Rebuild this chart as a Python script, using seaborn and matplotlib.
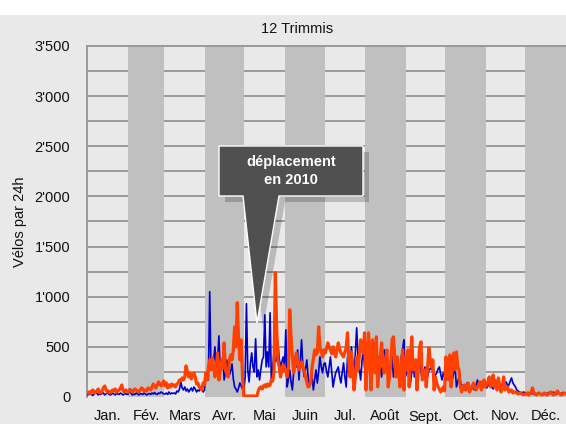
import numpy as np
import pandas as pd
import matplotlib
matplotlib.use("Agg")
import matplotlib.pyplot as plt
from matplotlib.patches import Polygon, Rectangle
from matplotlib.ticker import FuncFormatter
import seaborn as sns

# ---------------- data ----------------
title = "12 Trimmis"
ylabel = "Vélos par 24h"
month_labels = ["Jan.", "Fév.", "Mars", "Avr.", "Mai", "Juin",
                "Jul.", "Août", "Sept.", "Oct.", "Nov.", "Déc."]
month_days = [31, 28, 31, 30, 31, 30, 31, 31, 30, 31, 30, 31]
y_ticks = [0, 500, 1000, 1500, 2000, 2500, 3000, 3500]
callout_text = "déplacement\nen 2010"

blue_jan = [20,30,40,25,15,30,50,40,20,30,25,35,40,20,30,45,30,20,25,40,30,20,35,30,25,40,30,20,30,35,25]
blue_feb = [30,80,40,20,30,25,40,30,20,35,30,25,40,30,20,30,35,25,40,30,45,30,25,40,35,50,40,30]
blue_mar = [30,40,25,50,30,40,35,40,30,60,50,80,150,90,70,100,60,80,50,70,90,60,100,80,50,70,60,90,80,50,70]
blue_apr = [200,240,170,1050,270,320,370,500,230,350,610,270,330,400,170,250,370,280,220,260,330,180,100,80,50,90,140,110,80,60]
blue_may = [200,930,270,150,330,440,300,250,580,200,270,170,280,370,400,820,300,450,300,840,140,300,440,350,370,540,380,300,350,400,300]
blue_jun = [670,100,180,270,150,70,250,400,300,470,170,350,570,300,200,280,370,200,100,150,200,70,180,270,140,250,400,300,240,330]
blue_jul = [340,260,200,300,400,250,100,180,240,270,300,200,140,250,340,200,100,400,320,240,500,350,200,450,690,400,280,170,350,470,300]
blue_aug = [240,350,470,300,340,450,540,380,270,320,400,300,200,350,470,400,340,280,240,320,400,200,280,340,250,300,170,400,480,570,200]
blue_sep = [240,300,200,140,250,340,200,230,270,320,370,250,170,220,300,140,200,270,280,300,250,200,220,240,280,300,230,170,240,200]
blue_oct = [170,300,270,200,140,180,240,300,100,150,200,160,100,120,70,100,140,120,100,90,120,80,70,120,170,120,140,150,110,100,130]
blue_nov = [90,110,150,120,100,80,120,100,90,110,140,120,100,100,130,150,110,120,160,190,140,120,100,70,60,50,45,40,50,45]
blue_dec = [40,30,45,35,30,40,25,35,30,40,45,30,25,35,40,30,35,45,30,40,35,50,30,25,35,40,30,35,45,30,35]

orange_jan = [40,50,30,60,70,40,50,60,80,50,40,60,90,110,70,50,60,40,50,70,60,80,50,60,70,90,120,60,50,70,60]
orange_feb = [50,60,70,50,60,80,70,60,50,70,90,80,60,70,60,90,80,70,100,130,110,90,120,150,130,110,140,160]
orange_mar = [110,140,90,120,100,130,110,120,100,130,140,170,160,190,170,200,310,250,200,240,180,220,240,200,130,140,100,90,70,140,120]
orange_apr = [240,170,300,370,270,390,300,200,300,440,170,250,370,290,540,270,230,200,370,420,370,470,700,500,940,570,370,570,200,10]
orange_may = [10,10,10,10,10,10,10,10,10,10,60,90,100,80,110,120,100,130,110,120,170,160,250,1240,700,370,300,200,270,320,260]
orange_jun = [270,200,300,870,600,400,240,330,440,350,270,310,350,300,270,200,150,100,120,140,300,380,470,420,440,700,500,450,400,470]
orange_jul = [440,480,540,500,470,430,500,450,400,470,540,480,440,420,400,450,490,640,350,200,450,250,70,200,400,270,400,570,500,440,640]
orange_aug = [70,300,640,400,70,570,400,240,600,100,250,400,540,350,240,350,470,100,200,340,570,600,400,200,400,250,100,300,470,70,400]
orange_sep = [270,470,100,400,600,270,300,370,70,300,500,550,170,250,270,100,300,490,370,300,370,70,200,140,100,80,50,70,100,60]
orange_oct = [400,300,170,420,100,350,440,270,450,300,270,100,50,100,120,70,100,140,50,80,100,140,90,70,100,120,150,70,120,170,100]
orange_nov = [120,150,200,100,150,220,100,160,70,190,120,50,100,200,70,90,100,50,60,70,40,50,50,40,30,40,40,30,20,30]
orange_dec = [30,40,20,30,50,90,40,30,20,30,40,30,20,25,40,30,20,30,40,50,30,20,30,40,60,40,30,20,30,40,30]

blue = (blue_jan + blue_feb + blue_mar + blue_apr + blue_may + blue_jun +
        blue_jul + blue_aug + blue_sep + blue_oct + blue_nov + blue_dec)
orange = (orange_jan + orange_feb + orange_mar + orange_apr + orange_may + orange_jun +
          orange_jul + orange_aug + orange_sep + orange_oct + orange_nov + orange_dec)

df_blue = pd.DataFrame({"day": np.arange(len(blue)) + 0.5, "v": blue})
df_orange = pd.DataFrame({"day": np.arange(len(orange)) + 0.5, "v": orange})

# ---------------- style ----------------
sns.set_style("white")
plt.rcParams["font.family"] = ["Liberation Sans", "DejaVu Sans"]

W, H = 566, 424
BG = "#e9e9e9"
DARK = "#c0c0c0"
fig = plt.figure(figsize=(W / 100, H / 100), dpi=100, facecolor=BG)
fig.patches.append(Rectangle((0, (H - 15) / H), 1, 15 / H, transform=fig.transFigure,
                             facecolor="white", edgecolor="none", zorder=-5))

L, R, T, B = 87, 566, 46, 397
ax = fig.add_axes([L / W, 1 - B / H, (R - L) / W, (B - T) / H])
ax.set_facecolor(BG)

total = sum(month_days)
edges = np.concatenate([[0], np.cumsum(month_days)])
for i in range(12):
    if i % 2 == 1:
        ax.axvspan(edges[i], edges[i + 1], facecolor=DARK, edgecolor="none", zorder=1)

for yv in np.arange(250, 3500, 250):
    ax.axhline(yv, color="#999999", lw=1.4, zorder=0.5)

sns.lineplot(data=df_blue, x="day", y="v", ax=ax, color="#0000cc", lw=1.2,
             zorder=3, legend=False)
sns.lineplot(data=df_orange, x="day", y="v", ax=ax, color="#ff4000", lw=2.3,
             zorder=4, legend=False)

ax.set_xlim(0, total)
ax.set_ylim(0, 3500)
ax.set_yticks(y_ticks)
ax.yaxis.set_major_formatter(FuncFormatter(lambda v, p: f"{int(v):,}".replace(",", "'")))
mids = (edges[:-1] + edges[1:]) / 2
ax.set_xticks(mids)
ax.set_xticklabels(month_labels)
ax.tick_params(axis="both", length=0, labelsize=10.5, colors="#111111")
ax.tick_params(axis="y", pad=12)
ax.tick_params(axis="x", pad=9)
ax.set_xlabel("")
ax.set_ylabel(ylabel, fontsize=10.5, color="#111111")
ax.yaxis.set_label_coords(-0.125, 0.5)

for s in ["right", "bottom"]:
    ax.spines[s].set_visible(False)
for s in ["left", "top"]:
    ax.spines[s].set_color("#999999")
    ax.spines[s].set_linewidth(1.4)

fig.text(297 / W, 1 - 29 / H, title, ha="center", va="center", fontsize=10.5, color="#111111")

# callout
shape = [(219, 146), (363, 146), (363, 196), (279, 196), (257, 323), (243, 196), (219, 196)]
def to_fig(pts, dx=0, dy=0):
    return [((x + dx) / W, 1 - (y + dy) / H) for x, y in pts]
fig.patches.append(Polygon(to_fig(shape, 6, 6), closed=True, transform=fig.transFigure,
                           facecolor="black", alpha=0.2, edgecolor="none", zorder=5))
fig.patches.append(Polygon(to_fig(shape), closed=True, transform=fig.transFigure,
                           facecolor="#505050", edgecolor="white", lw=1.0, zorder=6))
fig.text(291 / W, 1 - 171 / H, callout_text, ha="center", va="center", fontsize=10.5,
         fontweight="bold", color="white", linespacing=1.45, zorder=7)

fig.savefig("out.png", dpi=100, facecolor=fig.get_facecolor())
